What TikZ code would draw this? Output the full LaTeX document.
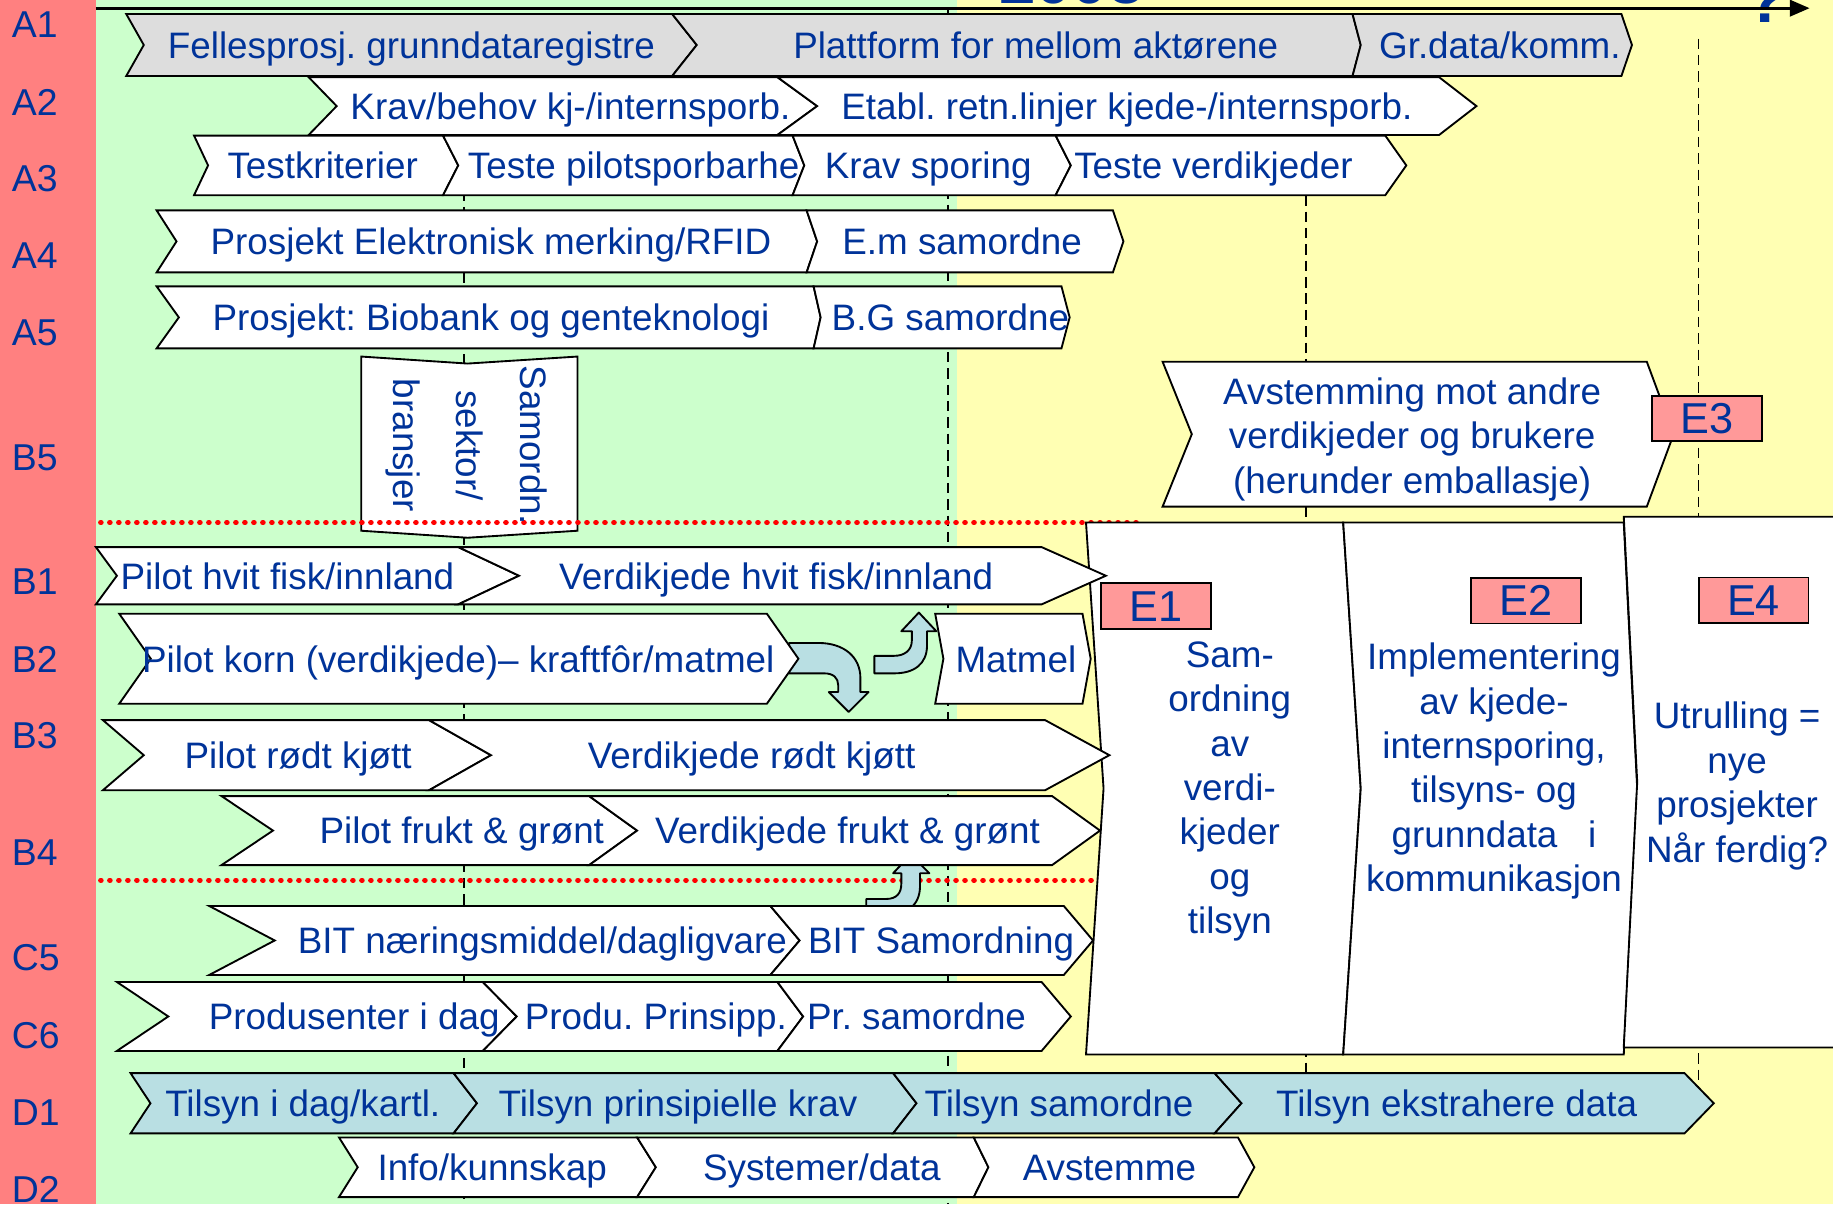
\documentclass[tikz,border=0pt]{standalone}
\usepackage{fontspec}
\setmainfont{Liberation Sans}
\frenchspacing
\usetikzlibrary{arrows.meta}
\definecolor{txtblue}{RGB}{0,51,153}
\definecolor{bandred}{RGB}{255,128,128}
\definecolor{bggreen}{RGB}{204,255,204}
\definecolor{bgyellow}{RGB}{255,255,179}
\definecolor{chgray}{RGB}{221,221,221}
\definecolor{chblue}{RGB}{185,223,227}
\definecolor{epink}{RGB}{255,153,153}
\def\redband{(0,0) rectangle (82,1030)}
\def\greenfield{(82,0) rectangle (819,1030)}
\def\yellowfield{(819,0) rectangle (1568,1030)}
% chevron: [fill] x-left, notch, x-right, point, y-top, y-bottom
\newcommand{\chev}[7][white]{\draw[chevline,fill=#1] (#2,#6) -- (#4,#6) -- ({#4+#5},{(#6+#7)/2}) -- (#4,#7) -- (#2,#7) -- ({#2+#3},{(#6+#7)/2}) -- cycle;}
\tikzset{
  chevline/.style={draw=black,line width=1.6pt,line join=miter},
  lbl/.style={text=txtblue,inner sep=0pt,font=\fontsize{31.5}{38}\selectfont,text height=22.7pt,text depth=0pt},
  multilbl/.style={text=txtblue,inner sep=0pt,align=center,font=\fontsize{31.5}{38}\selectfont},
  rowlbl/.style={text=txtblue,inner sep=0pt,anchor=west,font=\fontsize{32}{38}\selectfont,text height=23pt,text depth=0pt},
  elbl/.style={draw=black,line width=1.6pt,fill=epink,text=txtblue,minimum width=94pt,minimum height=39pt,inner sep=0pt,font=\fontsize{37}{40}\selectfont},
  vdash/.style={black,line width=1.5pt,dash pattern=on 9pt off 5pt},
  reddots/.style={red,line width=4.2pt,line cap=round,dash pattern=on 0.6pt off 7.1pt},
  blockarrow/.style={fill=chblue,draw=black,line width=1.6pt,line join=round},
  yearlbl/.style={text=txtblue,inner sep=0pt,anchor=base,font=\bfseries\fontsize{56}{56}\selectfont}
}
\begin{document}
\begin{tikzpicture}[x=1pt,y=-1pt]
\useasboundingbox (0,0) rectangle (1568,1030);
\clip (0,0) rectangle (1568,1030);
\fill[bandred]\redband;
\fill[bggreen]\greenfield;
\fill[bgyellow]\yellowfield;
\node[yearlbl] (yr) at (917,2.9) {2005};
\node[yearlbl] (qmark) at (1511,19.4) {?};
\coordinate (axstart) at (82,7);
\coordinate (axend) at (1548,7);
\draw[line width=2.4pt,-{Triangle[length=17pt,width=14pt]}] (axstart) -- (axend);
\draw[vdash] (397,65) -- (397,1030);
\draw[vdash] (811,7) -- (811,1030);
\draw[vdash] (1117,167) -- (1117,970);
\draw[vdash] (1453,33) -- (1453,940);
\draw[chevline,fill=white] (309,305) -- (400,311) -- (494,305) -- (494,454) -- (400,460) -- (309,454) -- cycle;
\draw[reddots] (86,447) -- (977,447);
\draw[reddots] (86,753) -- (935,753);
\chev{929}{15}{1149}{15}{447}{902}
\chev{1149}{15}{1389}{11.5}{447}{902}
\chev{1389}{11.5}{1600}{0}{442}{896}
\draw[blockarrow] (675,550) -- (700,550) .. controls (722,550) and (736,562) .. (736,580) -- (736,592) -- (743,592) -- (726,609) -- (709,592) -- (717,592) -- (717,586) .. controls (717,580) and (713,576) .. (705,576) -- (675,576) -- cycle;
\draw[blockarrow] (748,561) -- (765,561) .. controls (774,561) and (780,556) .. (780,548) -- (780,540) -- (771,540) -- (786,524) -- (801,540) -- (793,540) -- (793,552) .. controls (793,568) and (782,576) .. (765,576) -- (748,576) -- cycle;
\draw[blockarrow] (741,769) -- (758,769) .. controls (767,769) and (771,764) .. (771,756) -- (771,747) -- (764,747) -- (779,731) -- (795,747) -- (787,747) -- (787,758) .. controls (787,774) and (776,783) .. (759,783) -- (741,783) -- cycle;
\chev[chgray]{108}{15}{575}{21}{12}{65}
\chev[chgray]{575}{21}{1157}{7}{12}{65}
\chev[chgray]{1157}{7}{1387}{9}{12}{65}
\chev{264}{24}{665}{34}{66}{115.5}
\chev{665}{34}{1231}{32}{66}{115.5}
\chev{166}{12}{379}{13}{116}{167}
\chev{379}{13}{678}{10}{116}{167}
\chev{678}{10}{903}{13}{116}{167}
\chev{903}{13}{1185}{18}{116}{167}
\chev{134}{17}{690}{9}{180}{233}
\chev{690}{9}{952}{9}{180}{233}
\chev{134}{19}{696}{6}{245}{298}
\chev{696}{6}{908}{7}{245}{298}
\chev{994.5}{25}{1408.7}{23}{309.4}{433.4}
\chev{82}{18}{392}{52}{468}{517}
\chev{392}{52}{891}{55}{468}{517}
\chev{102}{27}{656}{27}{525}{602}
\chev{800}{7}{926}{7}{525}{602}
\chev{88}{35}{367}{53}{616}{676}
\chev{367}{53}{894}{55}{616}{676}
\chev{189.5}{44}{504}{41}{681}{740}
\chev{504}{41}{900}{41}{681}{740}
\chev{179}{56}{659}{25}{775}{834}
\chev{659}{25}{910}{25}{775}{834}
\chev{100}{44}{413}{29}{840}{899}
\chev{413}{29}{665}{22}{840}{899}
\chev{665}{22}{891}{25}{840}{899}
\chev[chblue]{111.7}{17}{388}{20}{918}{969.5}
\chev[chblue]{388}{20}{764}{20}{918}{969.5}
\chev[chblue]{764}{20}{1039}{23}{918}{969.5}
\chev[chblue]{1039}{23}{1441}{25}{918}{969.5}
\chev{290}{16}{545}{16}{973}{1024}
\chev{545}{16}{833}{12.5}{973}{1024}
\chev{833}{12.5}{1059}{14}{973}{1024}
\node[elbl] (eone) at (989,518.5) {E1};
\node[elbl] (etwo) at (1305.6,513.8) {E2};
\node[elbl] (ethree) at (1460.5,358) {E3};
\node[elbl] (efour) at (1500,513.5) {E4};
\foreach \r/\y in {A1/21,A2/87,A3/152,A4/218,A5/284,B5/391,B1/497,B2/564,B3/629,B4/729,C5/819,C6/885,D1/951,D2/1017}
  \node[rowlbl] (row\r) at (10,\y) {\r};
\node[lbl] (fellesprosj) at (352,38.5) {Fellesprosj. grunndataregistre};
\node[lbl] (plattform) at (886,38.5) {Plattform for mellom aktørene};
\node[lbl] (grdata) at (1283,38.5) {Gr.data/komm.};
\node[lbl] (kravbehov) at (488,90.8) {Krav/behov kj-/internsporb.};
\node[lbl] (etabl) at (964,90.8) {Etabl. retn.linjer kjede-/internsporb.};
\node[lbl] (testkrit) at (276,141.5) {Testkriterier};
\node[lbl,anchor=west] (testepilot) at (400,141.5) {Teste pilotsporbarhe};
\node[lbl] (kravsporing) at (794,141.5) {Krav sporing};
\node[lbl] (testeverdi) at (1038,141.5) {Teste verdikjeder};
\node[lbl] (prosjem) at (420,206.5) {Prosjekt Elektronisk merking/RFID};
\node[lbl] (emsamordne) at (823,206.5) {E.m samordne};
\node[lbl] (prosjbg) at (420,271.5) {Prosjekt: Biobank og genteknologi};
\node[lbl] (bgsamordne) at (813,271.5) {B.G samordne};
\node[multilbl,rotate=-90,font=\fontsize{31.5}{54}\selectfont] (samordn) at (399,381) {Samordn.\\sektor/\\bransjer};
\node[multilbl] (avstemming) at (1208,375.6) {Avstemming mot andre\\verdikjeder og brukere\\(herunder emballasje)};
\node[lbl,anchor=west] (pilotfisk) at (103,492.5) {Pilot hvit fisk/innland};
\node[lbl] (verdifisk) at (664,492.5) {Verdikjede hvit fisk/innland};
\node[lbl] (pilotkorn) at (392,563.5) {Pilot korn (verdikjede)– kraftfôr/matmel};
\node[lbl] (matmel) at (869,563.5) {Matmel};
\node[lbl] (pilotkjott) at (255,646) {Pilot rødt kjøtt};
\node[lbl] (verdikjott) at (643,646) {Verdikjede rødt kjøtt};
\node[lbl] (pilotfrukt) at (395,710.5) {Pilot frukt \& grønt};
\node[lbl] (verdifrukt) at (725,710.5) {Verdikjede frukt \& grønt};
\node[lbl] (bitnaering) at (464,804.5) {BIT næringsmiddel/dagligvare};
\node[lbl] (bitsamordning) at (805,804.5) {BIT Samordning};
\node[lbl] (produsenter) at (303,869.5) {Produsenter i dag};
\node[lbl] (produprinsipp) at (561,869.5) {Produ. Prinsipp.};
\node[lbl] (prsamordne) at (784,869.5) {Pr. samordne};
\node[lbl] (tilsyndag) at (259,943.7) {Tilsyn i dag/kartl.};
\node[lbl] (tilsynkrav) at (580,943.7) {Tilsyn prinsipielle krav};
\node[lbl] (tilsynsamordne) at (906,943.7) {Tilsyn samordne};
\node[lbl] (tilsyndata) at (1246,943.7) {Tilsyn ekstrahere data};
\node[lbl] (info) at (421,998.5) {Info/kunnskap};
\node[lbl] (systemer) at (703,998.5) {Systemer/data};
\node[lbl] (avstemme) at (949,998.5) {Avstemme};
\node[multilbl] (eonetxt) at (1052,677) {Sam-\\ordning\\av\\verdi-\\kjeder\\og\\tilsyn};
\node[multilbl] (etwotxt) at (1278,659.7) {Implementering\\av kjede-\\internsporing,\\tilsyns- og\\grunndata~~~i\\kommunikasjon};
\node[multilbl] (efourtxt) at (1486,672.3) {Utrulling =\\nye\\prosjekter\\Når ferdig?};
\end{tikzpicture}
\end{document}
